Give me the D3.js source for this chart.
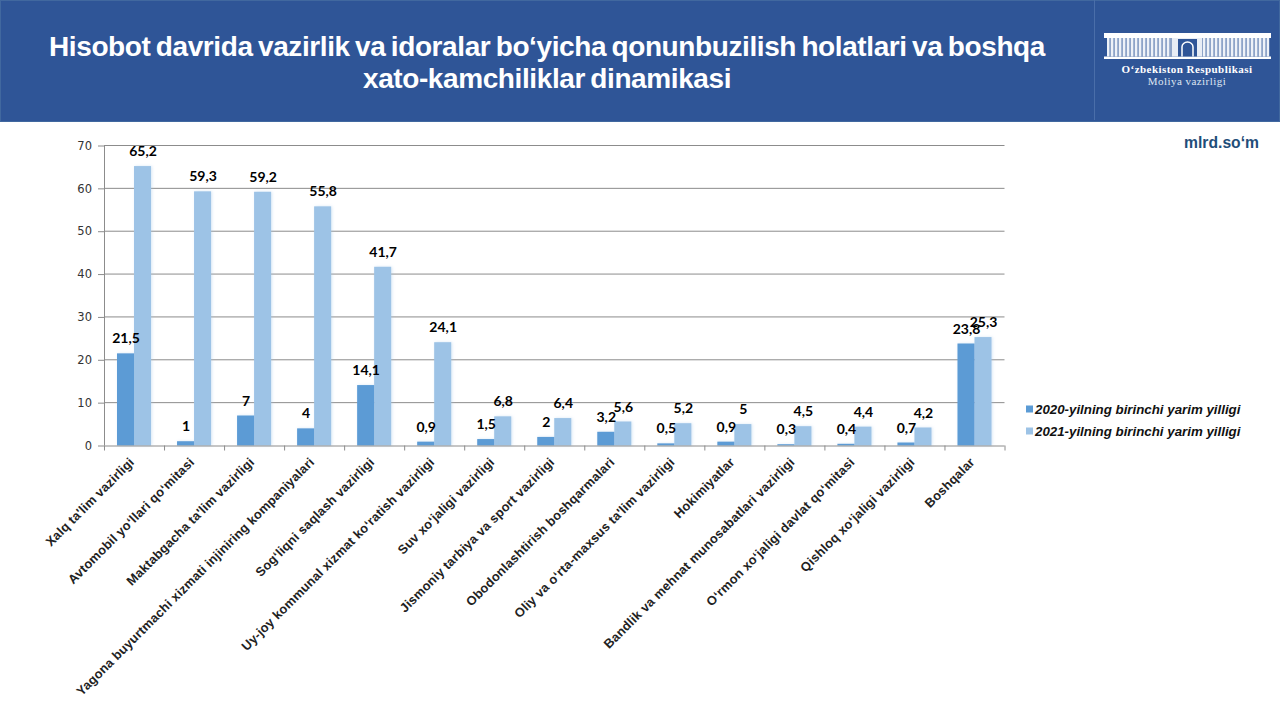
<!DOCTYPE html>
<html><head><meta charset="utf-8">
<script src="https://cdn.jsdelivr.net/npm/d3@7/dist/d3.min.js"></script>
<style>html,body{margin:0;padding:0;background:#fff}svg{display:block}</style>
</head><body><svg id="c" width="1280" height="720"></svg>
<script>
const categories=["Xalq ta'lim vazirligi","Avtomobil yo‘llari qo‘mitasi","Maktabgacha ta'lim vazirligi","Yagona buyurtmachi xizmati injiniring kompaniyalari","Sog‘liqni saqlash vazirligi","Uy-joy kommunal xizmat ko‘ratish vazirligi","Suv xo‘jaligi vazirligi","Jismoniy tarbiya va sport vazirligi","Obodonlashtirish boshqarmalari","Oliy va o‘rta-maxsus ta'lim vazirligi","Hokimiyatlar","Bandlik va mehnat munosabatlari vazirligi","O‘rmon xo‘jaligi davlat qo‘mitasi","Qishloq xo‘jaligi vazirligi","Boshqalar"];
const values2020=[21.5,1,7,4,14.1,0.9,1.5,2,3.2,0.5,0.9,0.3,0.4,0.7,23.8];
const values2021=[65.2,59.3,59.2,55.8,41.7,24.1,6.8,6.4,5.6,5.2,5,4.5,4.4,4.2,25.3];
const seriesNames=["2020-yilning birinchi yarim yilligi","2021-yilning birinchi yarim yilligi"];
const yTicks=[0,10,20,30,40,50,60,70];
const titleLines=["Hisobot davrida vazirlik va idoralar bo‘yicha qonunbuzilish holatlari va boshqa","xato-kamchiliklar dinamikasi"];
const colors=["#5b9bd5","#9dc3e6"];

const svg=d3.select("#c");
const defs=svg.append("defs");
const f=defs.append("filter").attr("id","sh").attr("x","-30%").attr("width","160%").attr("y","-5%").attr("height","110%");
f.append("feDropShadow").attr("dx",1).attr("dy",0).attr("stdDeviation",1.5).attr("flood-color","#9dc3e6").attr("flood-opacity",0.4);

// header
svg.append("rect").attr("x",0.5).attr("y",0.5).attr("width",1279).attr("height",121).attr("fill","#2f5597").attr("stroke","#41689f");
svg.append("line").attr("x1",1094.5).attr("x2",1094.5).attr("y1",0).attr("y2",120).attr("stroke","#4a6ea9");
svg.selectAll("text.t").data(titleLines).join("text").attr("class","t")
 .attr("x",547).attr("y",(d,i)=>55.5+i*32).attr("text-anchor","middle")
 .attr("fill","#fff").attr("font-family","Liberation Sans").attr("font-weight","bold").attr("font-size",28)
 .attr("letter-spacing",-0.4).attr("word-spacing",-2).text(d=>d);

// logo
const lg=svg.append("g");
lg.append("rect").attr("x",1104).attr("y",33).attr("width",167).attr("height",5).attr("fill","#fff");
lg.append("rect").attr("x",1104).attr("y",56.5).attr("width",167).attr("height",2.5).attr("fill","#fff");
lg.append("rect").attr("x",1107).attr("y",38).attr("width",161).attr("height",18.5).attr("fill","#8ea4c8");
const cols=d3.range(1107,1268,4).filter(x=>x<1170||x>1202);
lg.selectAll("rect.col").data(cols).join("rect").attr("class","col").attr("x",d=>d).attr("y",38).attr("width",2.2).attr("height",18.5).attr("fill","#eef2f8");
lg.append("rect").attr("x",1172).attr("y",38).attr("width",30).attr("height",18.5).attr("fill","#e8edf5");
lg.append("rect").attr("x",1178).attr("y",39).attr("width",19).attr("height",17.5).attr("fill","#2f5597");
lg.append("path").attr("d","M1182 56.5V47a5.5 5 0 0 1 11 0V56.5").attr("fill","none").attr("stroke","#fff").attr("stroke-width",1.5);
lg.append("text").attr("x",1187).attr("y",72.5).attr("text-anchor","middle").attr("fill","#fff").attr("font-family","Liberation Serif").attr("font-weight","bold").attr("font-size",11).attr("letter-spacing",0.45).text("O‘zbekiston Respublikasi");
lg.append("text").attr("x",1187).attr("y",84.5).attr("text-anchor","middle").attr("fill","#dfe6f2").attr("font-family","Liberation Serif").attr("font-size",11).attr("letter-spacing",0.45).text("Moliya vazirligi");

svg.append("text").attr("x",1259).attr("y",148).attr("text-anchor","end").attr("fill","#1f4e79").attr("font-family","Liberation Sans").attr("font-weight","bold").attr("font-size",15.7).text("mlrd.so‘m");

// chart
const x=d3.scaleBand().domain(categories).range([104,1004.5]);
const y=d3.scaleLinear().domain([0,70]).range([445.5,145.5]);
const inner=d3.scaleBand().domain([0,1]).range([0,x.bandwidth()]).paddingInner(0).paddingOuter(0.765);

svg.append("g").selectAll("line").data(yTicks.slice(1)).join("line")
 .attr("x1",104).attr("x2",1004.5).attr("y1",d=>y(d)).attr("y2",d=>y(d)).attr("stroke","#8c8c8c");

const axY=svg.append("g").attr("transform","translate(104,0)").call(d3.axisLeft(y).tickValues(yTicks).tickSize(6).tickPadding(6));
axY.select(".domain").attr("stroke","#8c8c8c").attr("d","M0.5,145.5V445.5");
axY.selectAll("line").attr("stroke","#8c8c8c");
axY.selectAll("text").attr("font-family","DejaVu Sans").attr("font-size",11.5).attr("fill","#333");

const series=[values2020,values2021];
[1,0].forEach(s=>{
 svg.append("g").attr("filter","url(#sh)").selectAll("rect").data(series[s]).join("rect")
  .attr("x",(d,i)=>x(categories[i])+inner(s)).attr("width",inner.bandwidth())
  .attr("y",d=>y(d)).attr("height",d=>y(0)-y(d)).attr("fill",colors[s]);
});

const axX=svg.append("g").attr("transform","translate(0,445.5)").call(d3.axisBottom(x).tickSize(0).tickFormat(""));
axX.select(".domain").attr("stroke","#8c8c8c").attr("d","M104,0.5H1004.5");
svg.append("g").selectAll("line").data(d3.range(16)).join("line")
 .attr("x1",i=>104.5+i*x.bandwidth()).attr("x2",i=>104.5+i*x.bandwidth()).attr("y1",445.5).attr("y2",450.5).attr("stroke","#8c8c8c");

svg.append("g").selectAll("text").data(categories).join("text")
 .attr("transform",d=>`translate(${x(d)+x.bandwidth()/2+1},463) rotate(-45)`)
 .attr("text-anchor","end").attr("font-family","Liberation Sans").attr("font-weight","bold").attr("font-size",12.8).attr("letter-spacing",0.2).attr("fill","#222").text(d=>d);

const fmt=v=>String(v).replace(".",",");
series.forEach((vals,s)=>{
 svg.append("g").selectAll("text").data(vals).join("text")
  .attr("x",(d,i)=>x(categories[i])+inner(s)+inner.bandwidth()/2+0.5)
  .attr("y",d=>y(d)-10).attr("text-anchor","middle")
  .attr("font-family","Lato").attr("font-weight","bold").attr("font-size",14).attr("fill","#000").text(fmt);
});

// legend
const lgd=svg.append("g");
seriesNames.forEach((n,i)=>{
 const yy=409+i*22;
 lgd.append("rect").attr("x",1026).attr("y",yy-3.5).attr("width",7).attr("height",7).attr("fill",colors[i]);
 lgd.append("text").attr("x",1035).attr("y",yy+4.5).attr("font-family","Liberation Sans").attr("font-weight","bold").attr("font-style","italic").attr("font-size",13.3).attr("fill","#111").text(n);
});
</script></body></html>
